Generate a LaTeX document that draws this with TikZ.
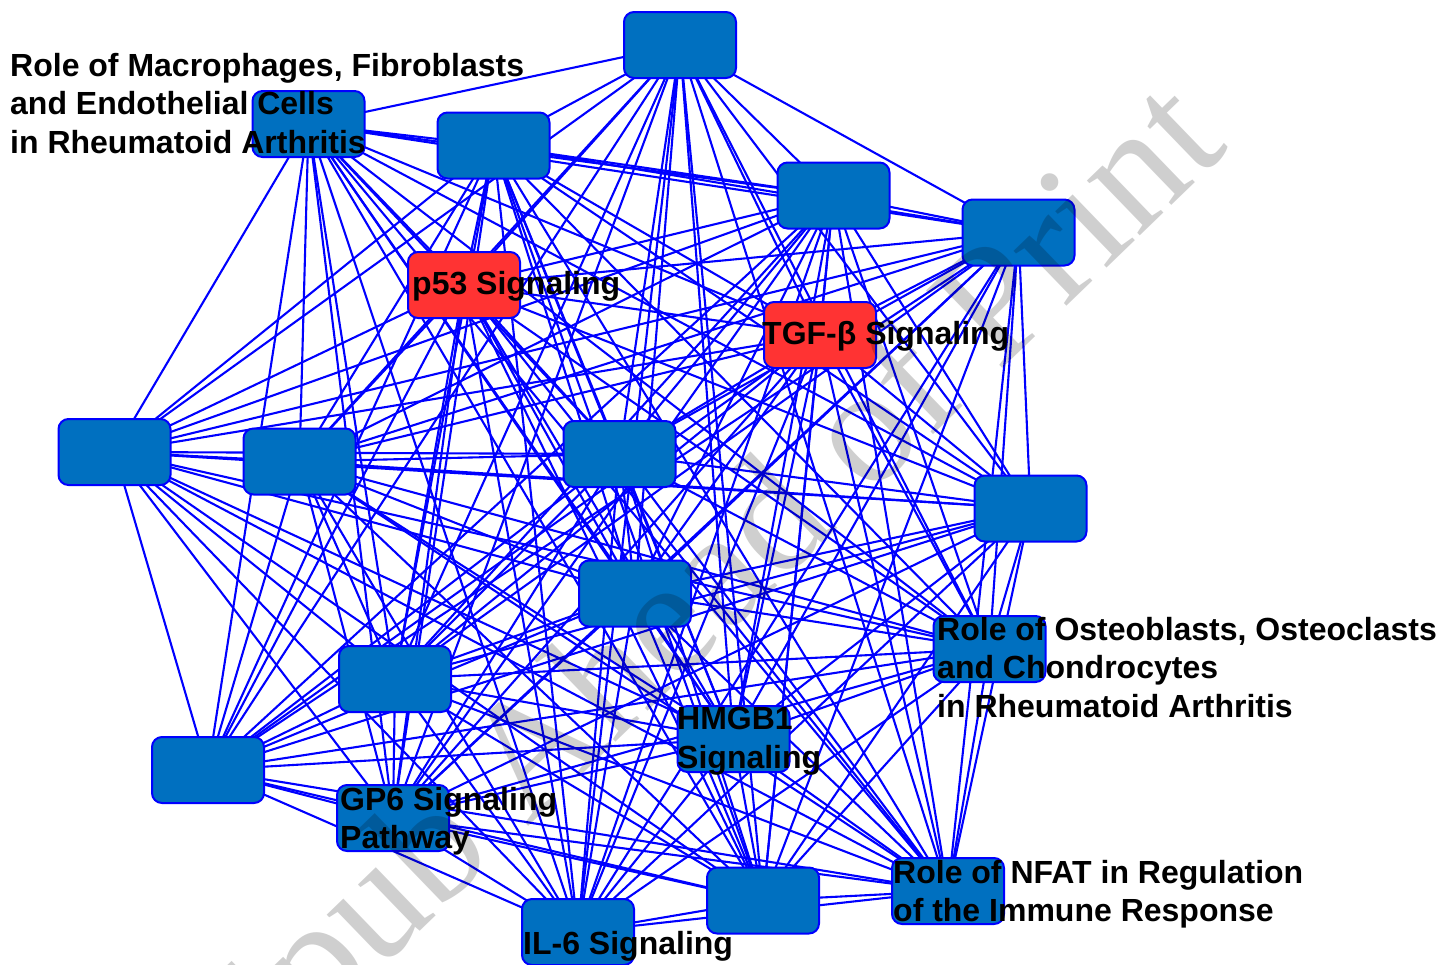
\documentclass[tikz,border=0pt]{standalone}
\usepackage{fontspec}
\setmainfont{Liberation Sans}
\newfontfamily\wmfont{Liberation Serif}
\definecolor{nodeblue}{RGB}{0,112,192}
\definecolor{edgeblue}{RGB}{0,0,255}
\definecolor{nodered}{RGB}{255,51,51}
\begin{document}
\begin{tikzpicture}[x=1pt,y=-1pt,
  pnode/.style={rectangle, rounded corners=10pt, minimum width=112pt, minimum height=66pt,
    inner sep=0pt, fill=nodeblue, draw=edgeblue, line width=2pt},
  rnode/.style={pnode, fill=nodered},
  edge/.style={draw=edgeblue, line width=2.1pt},
  lbl/.style={inner sep=0pt, align=left, text=black, font=\bfseries\fontsize{32}{38.5}\selectfont},
  wm/.style={inner sep=0pt, rotate=44, anchor=base, text=black, text opacity=0.19,
    font=\wmfont\fontsize{166}{166}\selectfont}]
\useasboundingbox (0,0) rectangle (1455,964);
% node positions
\path
  (680,45)       coordinate (c1)
  (308.5,124)    coordinate (c2)
  (493.5,145.5)  coordinate (c3)
  (833.5,195.5)  coordinate (c4)
  (1018.5,232.5) coordinate (c5)
  (464,285)      coordinate (c6)
  (820,335)      coordinate (c7)
  (114.5,452)    coordinate (c8)
  (299.5,461.5)  coordinate (c9)
  (619.5,454)    coordinate (c10)
  (1030.5,508.5) coordinate (c11)
  (635,593.5)    coordinate (c12)
  (989.5,649)    coordinate (c13)
  (395,679)      coordinate (c14)
  (733.5,739)    coordinate (c15)
  (208,770)      coordinate (c16)
  (393,818)      coordinate (c17)
  (948,891)      coordinate (c18)
  (763,900.5)    coordinate (c19)
  (578,932)      coordinate (c20);
% edges
\foreach \i in {1,...,20}{
  \foreach \j in {\i,...,20}{
    \ifnum\i<\j
      \draw[edge] (c\i) -- (c\j);
    \fi
  }
}
% nodes
\foreach \k in {1,2,3,4,5,8,9,10,11,12,13,14,15,16,17,18,19,20}{
  \node[pnode] (n\k) at (c\k) {};
}
\node[rnode] (n6) at (c6) {};
\node[rnode] (n7) at (c7) {};
% labels
\node[lbl, anchor=north west] (l2) at (10,53) {Role of Macrophages, Fibroblasts\\and Endothelial Cells\\in Rheumatoid Arthritis};
\node[lbl, anchor=base west] (l6) at (412,294.5) {p53 Signaling};
\node[lbl, anchor=base west] (l7) at (762,344.5) {TGF-β Signaling};
\node[lbl, anchor=north west] (l13) at (937,617) {Role of Osteoblasts, Osteoclasts\\and Chondrocytes\\in Rheumatoid Arthritis};
\node[lbl, anchor=north west] (l15) at (677,707) {HMGB1\\Signaling};
\node[lbl, anchor=north west] (l17) at (340,787) {GP6 Signaling\\Pathway};
\node[lbl, anchor=north west] (l18) at (893,860) {Role of NFAT in Regulation\\of the Immune Response};
\node[lbl, anchor=base west] (l20) at (523,954.5) {IL-6 Signaling};
% watermark
\node[wm] (wmk) at (738,624) {Epub Ahead of Print};
\end{tikzpicture}
\end{document}
